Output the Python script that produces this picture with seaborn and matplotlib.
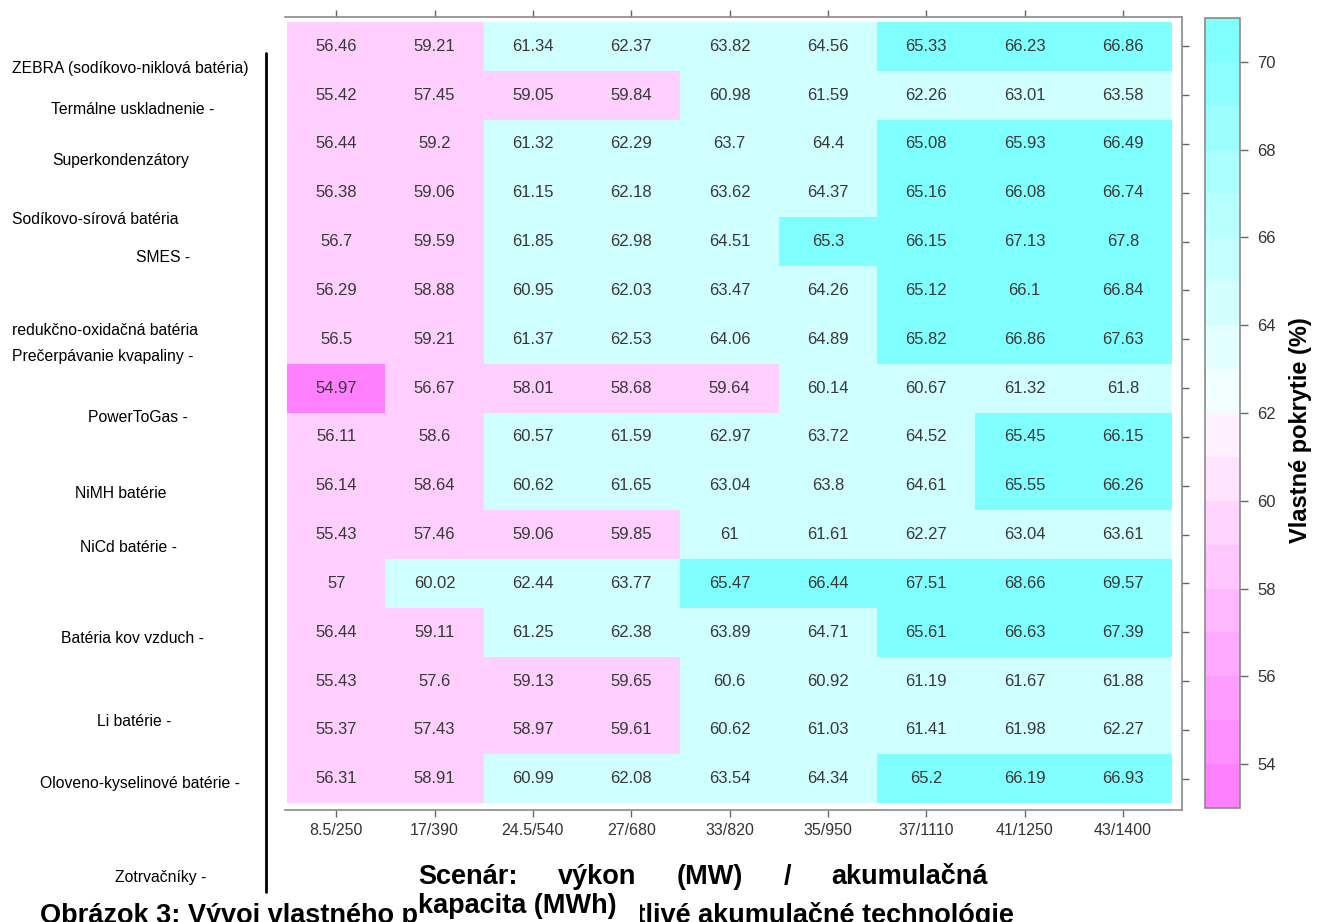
import colorsys

import matplotlib
matplotlib.use("Agg")
import matplotlib.pyplot as plt
import numpy as np
import pandas as pd
import seaborn as sns
from matplotlib.cm import ScalarMappable
from matplotlib.colors import BoundaryNorm, ListedColormap
from matplotlib.patches import Rectangle

# ---- data -------------------------------------------------------------
scenarios = ["8.5/250", "17/390", "24.5/540", "27/680", "33/820",
             "35/950", "37/1110", "41/1250", "43/1400"]

row_ids = list(range(1, 17))

coverage = [
    [56.46, 59.21, 61.34, 62.37, 63.82, 64.56, 65.33, 66.23, 66.86],
    [55.42, 57.45, 59.05, 59.84, 60.98, 61.59, 62.26, 63.01, 63.58],
    [56.44, 59.20, 61.32, 62.29, 63.70, 64.40, 65.08, 65.93, 66.49],
    [56.38, 59.06, 61.15, 62.18, 63.62, 64.37, 65.16, 66.08, 66.74],
    [56.70, 59.59, 61.85, 62.98, 64.51, 65.30, 66.15, 67.13, 67.80],
    [56.29, 58.88, 60.95, 62.03, 63.47, 64.26, 65.12, 66.10, 66.84],
    [56.50, 59.21, 61.37, 62.53, 64.06, 64.89, 65.82, 66.86, 67.63],
    [54.97, 56.67, 58.01, 58.68, 59.64, 60.14, 60.67, 61.32, 61.80],
    [56.11, 58.60, 60.57, 61.59, 62.97, 63.72, 64.52, 65.45, 66.15],
    [56.14, 58.64, 60.62, 61.65, 63.04, 63.80, 64.61, 65.55, 66.26],
    [55.43, 57.46, 59.06, 59.85, 61.00, 61.61, 62.27, 63.04, 63.61],
    [57.00, 60.02, 62.44, 63.77, 65.47, 66.44, 67.51, 68.66, 69.57],
    [56.44, 59.11, 61.25, 62.38, 63.89, 64.71, 65.61, 66.63, 67.39],
    [55.43, 57.60, 59.13, 59.65, 60.60, 60.92, 61.19, 61.67, 61.88],
    [55.37, 57.43, 58.97, 59.61, 60.62, 61.03, 61.41, 61.98, 62.27],
    [56.31, 58.91, 60.99, 62.08, 63.54, 64.34, 65.20, 66.19, 66.93],
]

# technology labels and their (x, y) pixel anchors on the left margin
tech_labels = [
    ("ZEBRA (sodíkovo-niklová batéria)", 12, 68),
    ("Termálne uskladnenie -", 51, 110),
    ("Superkondenzátory", 52, 161),
    ("Sodíkovo-sírová batéria", 12, 219),
    ("SMES -", 136, 258),
    ("redukčno-oxidačná batéria", 12, 330),
    ("Prečerpávanie kvapaliny -", 12, 357),
    ("PowerToGas -", 88, 417),
    ("NiMH batérie", 75, 493),
    ("NiCd batérie -", 80, 548),
    ("Batéria kov vzduch -", 61, 638),
    ("Li batérie -", 97, 722),
    ("Oloveno-kyselinové batérie -", 40, 783),
    ("Zotrvačníky -", 115, 877),
]

cell_bounds = [53, 55, 60, 65, 71]
cbar_bounds = list(range(53, 72))
cbar_ticks = [54, 56, 58, 60, 62, 64, 66, 68, 70]

xlabel_words = ["Scenár:", "výkon", "(MW)", "/", "akumulačná"]
xlabel_line2 = "kapacita (MWh)"
cbar_label = "Vlastné pokrytie (%)"
caption = "Obrázok 3: Vývoj vlastného pokrytia pre jednotlivé akumulačné technológie"

# ---- styling ------------------------------------------------------------
W, H = 1329, 922
sns.set_theme(style="white")
plt.rcParams["font.family"] = ["Liberation Sans", "DejaVu Sans"]


def fx(px):
    return px / W


def fy(py):
    return 1 - py / H


def hsv_rgb(h, s):
    return colorsys.hsv_to_rgb(h, s, 1.0)


def cm_colors(n):
    """Cyan -> white -> magenta ramp (R's cm.colors)."""
    even = n % 2 == 0
    k = n // 2
    l1 = k + 1 - even
    l2 = n - k + even
    cols = [hsv_rgb(6 / 12, s) for s in
            np.linspace(0.5, 0.5 / k if even else 0.0, l1)]
    cols += [hsv_rgb(10 / 12, s) for s in np.linspace(0.0, 0.5, l2)[1:]]
    return cols


# low values magenta, high values cyan
cbar_colors = cm_colors(len(cbar_bounds) - 1)[::-1]
cbar_cmap = ListedColormap(cbar_colors)
cbar_norm = BoundaryNorm(cbar_bounds, cbar_cmap.N)

cell_cmap = ListedColormap([
    hsv_rgb(10 / 12, 0.5),
    hsv_rgb(10 / 12, 0.19),
    hsv_rgb(6 / 12, 0.19),
    hsv_rgb(6 / 12, 0.5),
])
cell_norm = BoundaryNorm(cell_bounds, cell_cmap.N)

df = pd.DataFrame(coverage, index=row_ids, columns=scenarios)
labels = np.array([[f"{v:g}" for v in row] for row in coverage])

fig = plt.figure(figsize=(W / 100, H / 100), dpi=100)
ax = fig.add_axes([fx(285), fy(810), fx(1182 - 285), (810 - 17) / H])

sns.heatmap(df, ax=ax, cmap=cell_cmap, norm=cell_norm, cbar=False,
            annot=labels, fmt="",
            annot_kws={"color": "#383838", "fontsize": 12})

ax.set_xlim(-0.02, 9.10)
ax.set_ylim(16.14, -0.10)

spine_col = "#8a8a8a"
for side in ["top", "right", "bottom"]:
    ax.spines[side].set_visible(True)
    ax.spines[side].set_color(spine_col)
    ax.spines[side].set_linewidth(1.2)
ax.spines["left"].set_visible(False)

ax.set_xticks(np.arange(len(scenarios)) + 0.5)
ax.set_xticklabels(scenarios, rotation=0)
ax.set_yticks(np.arange(len(row_ids)) + 0.5)
ax.set_yticklabels([])
ax.tick_params(axis="x", which="both", bottom=True, top=True,
               labelbottom=True, labeltop=False, direction="out",
               length=5, width=1, color="#666666", labelcolor="#333333",
               labelsize=11.5, pad=4)
ax.tick_params(axis="y", which="both", left=False, right=True,
               labelleft=False, labelright=False, direction="out",
               length=5, width=1, color="#666666")
ax.set_xlabel("")
ax.set_ylabel("")

# colour key
cax = fig.add_axes([fx(1205), fy(808), fx(1240 - 1205), (808 - 18) / H])
sm = ScalarMappable(norm=cbar_norm, cmap=cbar_cmap)
cb = fig.colorbar(sm, cax=cax, ticks=cbar_ticks, spacing="proportional")
cb.minorticks_off()
cb.outline.set_edgecolor(spine_col)
cb.outline.set_linewidth(1.2)
cax.tick_params(which="major", direction="out", length=5.5, width=1,
                color="#666666", labelcolor="#333333", labelsize=12, pad=7)
cax.tick_params(which="minor", length=0)
cax.set_yticklabels([str(t) for t in cbar_ticks])

fig.text(fx(1301), fy(430), cbar_label, rotation=90, ha="center",
         va="center", fontsize=17, fontweight="bold", color="black")

# technology names on the left margin with the separating rule
for name, px, py in tech_labels:
    fig.text(fx(px), fy(py), name, ha="left", va="center", fontsize=11.3,
             color="black")
fig.add_artist(plt.Line2D([fx(266), fx(266)], [fy(53), fy(892)],
                          color="black", linewidth=2))

# caption
fig.text(fx(40), fy(923), caption, ha="left", va="baseline",
         fontsize=19.5, fontweight="bold", color="black", zorder=3)

# axis title, first line justified between the two ends
renderer = fig.canvas.get_renderer()
title_kw = dict(ha="left", va="center", fontsize=19.5, fontweight="bold",
                color="black", zorder=5)
x_start, x_end, y_line = 418, 988, 877
word_artists = [fig.text(0, fy(y_line), w, **title_kw) for w in xlabel_words]
widths = [t.get_window_extent(renderer).width for t in word_artists]
gap = (x_end - x_start - sum(widths)) / (len(widths) - 1)
pos = x_start
for t, wpx in zip(word_artists, widths):
    t.set_x(fx(pos))
    pos += wpx + gap

# white band behind the second title line, over the caption
fig.add_artist(Rectangle((fx(417), fy(922)), fx(640 - 417), (922 - 892) / H,
                         transform=fig.transFigure, facecolor="white",
                         edgecolor="none", zorder=4))
fig.text(fx(x_start), fy(906), xlabel_line2, **title_kw)

fig.savefig("out.png", dpi=100, facecolor="white")
